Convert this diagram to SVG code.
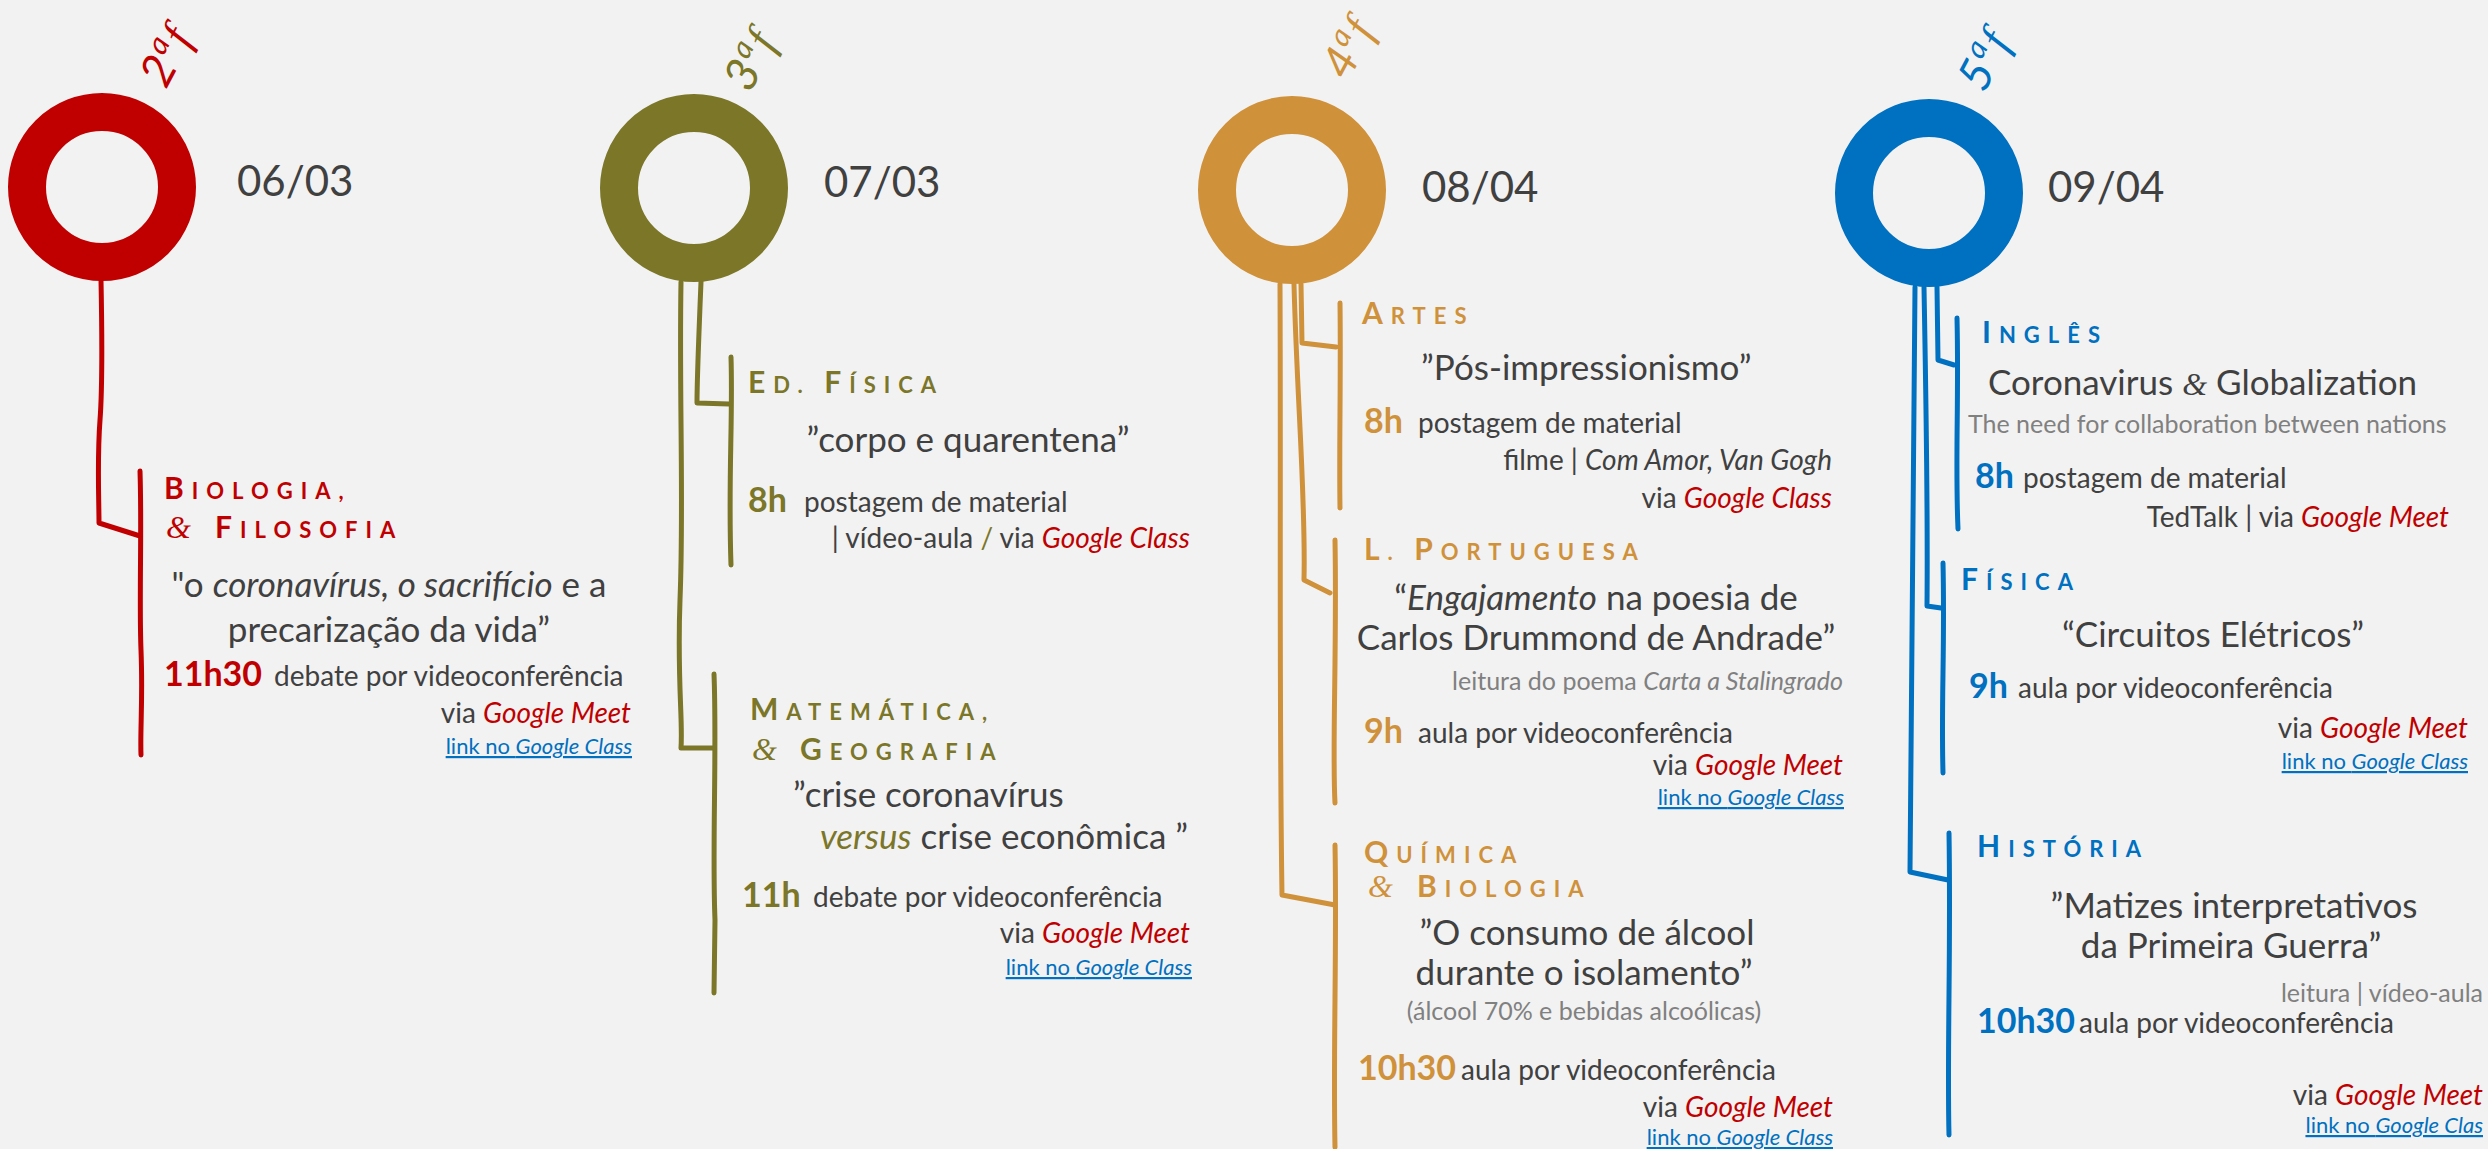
<svg xmlns="http://www.w3.org/2000/svg" width="2488" height="1149" viewBox="0 0 2488 1149">
<style>
text{font-family:Lato,"Open Sans",sans-serif;fill:#404040}
.date{font-size:42px}
.day{font-size:46px;font-style:italic;letter-spacing:2px}
.sup{font-size:30px}
.hd{font-weight:bold;letter-spacing:8px}
.cap{font-size:30px}
.sc{font-size:22px}
.amp{font-family:"Liberation Serif",serif;font-style:italic;font-weight:normal;font-size:32px;letter-spacing:0}
.q{font-size:35px}
.b{font-size:28px}
.g{font-size:25px;fill:#808080}
.tm{font-size:34px;font-weight:bold}
.i{font-style:italic}
.gm{fill:#C00000;font-style:italic}
.lk{font-size:22px;fill:#0070C0;text-decoration:underline}
.red{fill:#C00000}.olv{fill:#7B7628}.org{fill:#CF913A}.blu{fill:#0070C0}
.ring{fill:none;stroke-width:38}
.cn path{fill:none;stroke-width:5;stroke-linecap:round;stroke-linejoin:round}
</style>
<rect width="2488" height="1149" fill="#F2F2F2"/>

<g class="cn" id="connectors">
  <g stroke="#C00000">
    <path d="M101,280 C102,330 103,380 100,420 C97,460 99,500 99,523 L140,536"/>
    <path d="M140,471 C142,530 139,600 141,650 C143,700 140,730 141,755"/>
  </g>
  <g stroke="#7B7628">
    <path d="M681,282 C679,400 684,500 680,600 C677,680 683,720 681,748 L714,748"/>
    <path d="M714,674 C717,750 712,850 715,920 L714,993"/>
    <path d="M701,282 C699,330 697,380 697,403 L729,404"/>
    <path d="M731,357 C733,420 728,480 731,565"/>
  </g>
  <g stroke="#CF913A">
    <path d="M1301,284 L1302,343 L1336,347"/>
    <path d="M1340,303 C1341,380 1339,450 1340,508"/>
    <path d="M1294,284 C1297,400 1306,500 1304,580 L1330,593"/>
    <path d="M1335,540 C1337,650 1332,750 1335,803"/>
    <path d="M1280,284 C1281,500 1279,700 1282,895 L1335,905"/>
    <path d="M1335,845 C1337,950 1333,1050 1335,1147"/>
  </g>
  <g stroke="#0070C0">
    <path d="M1937,287 L1938,360 L1954,365"/>
    <path d="M1957,318 C1959,400 1955,460 1958,529"/>
    <path d="M1924,287 C1926,400 1928,500 1927,606 L1941,608"/>
    <path d="M1943,563 C1945,650 1941,700 1943,773"/>
    <path d="M1915,287 C1912,500 1911,700 1910,872 L1948,880"/>
    <path d="M1949,833 C1951,950 1947,1050 1949,1135"/>
  </g>
</g>

<g id="day-2af">
  <circle class="ring" cx="102" cy="187" r="75" stroke="#C00000"/>
  <text class="day red" transform="translate(166,90) rotate(-62)">2<tspan class="sup" dy="-18">a</tspan><tspan dy="18" font-family="Liberation Serif">f</tspan></text>
  <text class="date" x="237" y="196">06/03</text>
  <g id="biologia-filosofia">
    <text class="hd red" x="164" y="499"><tspan class="cap">B</tspan><tspan class="sc">IOLOGIA,</tspan></text>
    <text class="amp red" x="166" y="538">&amp;</text>
    <text class="hd red" x="215" y="538"><tspan class="cap">F</tspan><tspan class="sc">ILOSOFIA</tspan></text>
    <text class="q" x="389" y="597" text-anchor="middle">"o <tspan class="i">coronavírus, o sacrifício</tspan> e a</text>
    <text class="q" x="389" y="642" text-anchor="middle">precarização da vida”</text>
    <text class="tm red" x="164" y="686">11h30</text>
    <text class="b" x="274" y="686">debate por videoconferência</text>
    <text class="b" x="631" y="723" text-anchor="end">via <tspan class="gm">Google Meet</tspan></text>
    <text class="lk" x="632" y="754" text-anchor="end">link no <tspan class="i">Google Class</tspan></text>
  </g>
</g>

<g id="day-3af">
  <circle class="ring" cx="694" cy="188" r="75" stroke="#7B7628"/>
  <text class="day olv" transform="translate(750,94) rotate(-62)">3<tspan class="sup" dy="-18">a</tspan><tspan dy="18" font-family="Liberation Serif">f</tspan></text>
  <text class="date" x="824" y="197">07/03</text>
  <g id="ed-fisica">
    <text class="hd olv" x="748" y="393"><tspan class="cap">E</tspan><tspan class="sc">D. </tspan><tspan class="cap">F</tspan><tspan class="sc">ÍSICA</tspan></text>
    <text class="q" x="968" y="452" text-anchor="middle">”corpo e quarentena”</text>
    <text class="tm olv" x="748" y="512">8h</text>
    <text class="b" x="804" y="512">postagem de material</text>
    <text class="b" x="1190" y="548" text-anchor="end">| vídeo-aula <tspan class="olv">/</tspan> via <tspan class="gm">Google Class</tspan></text>
  </g>
  <g id="matematica-geografia">
    <text class="hd olv" x="750" y="720"><tspan class="cap">M</tspan><tspan class="sc">ATEMÁTICA,</tspan></text>
    <text class="amp olv" x="752" y="760">&amp;</text>
    <text class="hd olv" x="800" y="760"><tspan class="cap">G</tspan><tspan class="sc">EOGRAFIA</tspan></text>
    <text class="q" x="793" y="807">”crise coronavírus</text>
    <text class="q" x="820" y="849"><tspan class="i olv">versus</tspan> crise econômica ”</text>
    <text class="tm olv" x="742" y="907">11h</text>
    <text class="b" x="813" y="907">debate por videoconferência</text>
    <text class="b" x="1190" y="943" text-anchor="end">via <tspan class="gm">Google Meet</tspan></text>
    <text class="lk" x="1192" y="975" text-anchor="end">link no <tspan class="i">Google Class</tspan></text>
  </g>
</g>

<g id="day-4af">
  <circle class="ring" cx="1292" cy="190" r="75" stroke="#CF913A"/>
  <text class="day org" transform="translate(1348,82) rotate(-62)">4<tspan class="sup" dy="-18">a</tspan><tspan dy="18" font-family="Liberation Serif">f</tspan></text>
  <text class="date" x="1422" y="202">08/04</text>
  <g id="artes">
    <text class="hd org" x="1362" y="324"><tspan class="cap">A</tspan><tspan class="sc">RTES</tspan></text>
    <text class="q" x="1421" y="380">”Pós-impressionismo”</text>
    <text class="tm org" x="1364" y="433">8h</text>
    <text class="b" x="1418" y="433">postagem de material</text>
    <text class="b" x="1832" y="470" text-anchor="end">filme  | <tspan class="i">Com Amor, Van Gogh</tspan></text>
    <text class="b" x="1832" y="508" text-anchor="end">via <tspan class="gm">Google Class</tspan></text>
  </g>
  <g id="l-portuguesa">
    <text class="hd org" x="1364" y="560"><tspan class="cap">L</tspan><tspan class="sc">. </tspan><tspan class="cap">P</tspan><tspan class="sc">ORTUGUESA</tspan></text>
    <text class="q" x="1596" y="610" text-anchor="middle">“<tspan class="i">Engajamento</tspan> na poesia de</text>
    <text class="q" x="1596" y="650" text-anchor="middle" font-size="33">Carlos Drummond de Andrade”</text>
    <text class="g" x="1843" y="690" text-anchor="end">leitura do poema <tspan class="i">Carta a Stalingrado</tspan></text>
    <text class="tm org" x="1364" y="743">9h</text>
    <text class="b" x="1418" y="743">aula por videoconferência</text>
    <text class="b" x="1843" y="775" text-anchor="end">via <tspan class="gm">Google Meet</tspan></text>
    <text class="lk" x="1844" y="805" text-anchor="end">link no <tspan class="i">Google Class</tspan></text>
  </g>
  <g id="quimica-biologia">
    <text class="hd org" x="1364" y="863"><tspan class="cap">Q</tspan><tspan class="sc">UÍMICA</tspan></text>
    <text class="amp org" x="1368" y="897">&amp;</text>
    <text class="hd org" x="1417" y="897"><tspan class="cap">B</tspan><tspan class="sc">IOLOGIA</tspan></text>
    <text class="q" x="1587" y="945" text-anchor="middle">”O consumo de álcool</text>
    <text class="q" x="1584" y="985" text-anchor="middle">durante o isolamento”</text>
    <text class="g" x="1584" y="1020" text-anchor="middle">(álcool 70% e bebidas alcoólicas)</text>
    <text class="tm org" x="1358" y="1080">10h30</text>
    <text class="b" x="1461" y="1080">aula por videoconferência</text>
    <text class="b" x="1833" y="1117" text-anchor="end">via <tspan class="gm">Google Meet</tspan></text>
    <text class="lk" x="1833" y="1145" text-anchor="end">link no <tspan class="i">Google Class</tspan></text>
  </g>
</g>

<g id="day-5af">
  <circle class="ring" cx="1929" cy="193" r="75" stroke="#0070C0"/>
  <text class="day blu" transform="translate(1984,94) rotate(-62)">5<tspan class="sup" dy="-18">a</tspan><tspan dy="18" font-family="Liberation Serif">f</tspan></text>
  <text class="date" x="2048" y="202">09/04</text>
  <g id="ingles">
    <text class="hd blu" x="1982" y="343"><tspan class="cap">I</tspan><tspan class="sc">NGLÊS</tspan></text>
    <text class="q" x="1988" y="395">Coronavirus <tspan class="amp" font-size="35" fill="#404040">&amp;</tspan> Globalization</text>
    <text class="g" x="1968" y="433">The need for collaboration between nations</text>
    <text class="tm blu" x="1975" y="488">8h</text>
    <text class="b" x="2023" y="488">postagem de material</text>
    <text class="b" x="2449" y="527" text-anchor="end">TedTalk | via <tspan class="gm">Google Meet</tspan></text>
  </g>
  <g id="fisica">
    <text class="hd blu" x="1961" y="590"><tspan class="cap">F</tspan><tspan class="sc">ÍSICA</tspan></text>
    <text class="q" x="2213" y="647" text-anchor="middle">“Circuitos Elétricos”</text>
    <text class="tm blu" x="1969" y="698">9h</text>
    <text class="b" x="2018" y="698">aula por videoconferência</text>
    <text class="b" x="2468" y="738" text-anchor="end">via <tspan class="gm">Google Meet</tspan></text>
    <text class="lk" x="2468" y="769" text-anchor="end">link no <tspan class="i">Google Class</tspan></text>
  </g>
  <g id="historia">
    <text class="hd blu" x="1977" y="857"><tspan class="cap">H</tspan><tspan class="sc">ISTÓRIA</tspan></text>
    <text class="q" x="2234" y="918" text-anchor="middle">”Matizes interpretativos</text>
    <text class="q" x="2231" y="958" text-anchor="middle">da Primeira Guerra”</text>
    <text class="g" x="2483" y="1002" text-anchor="end">leitura | vídeo-aula</text>
    <text class="tm blu" x="1977" y="1033">10h30</text>
    <text class="b" x="2079" y="1033">aula por videoconferência</text>
    <text class="b" x="2483" y="1105" text-anchor="end">via <tspan class="gm">Google Meet</tspan></text>
    <text class="lk" x="2483" y="1133" text-anchor="end">link no <tspan class="i">Google Clas</tspan></text>
  </g>
</g>
</svg>
